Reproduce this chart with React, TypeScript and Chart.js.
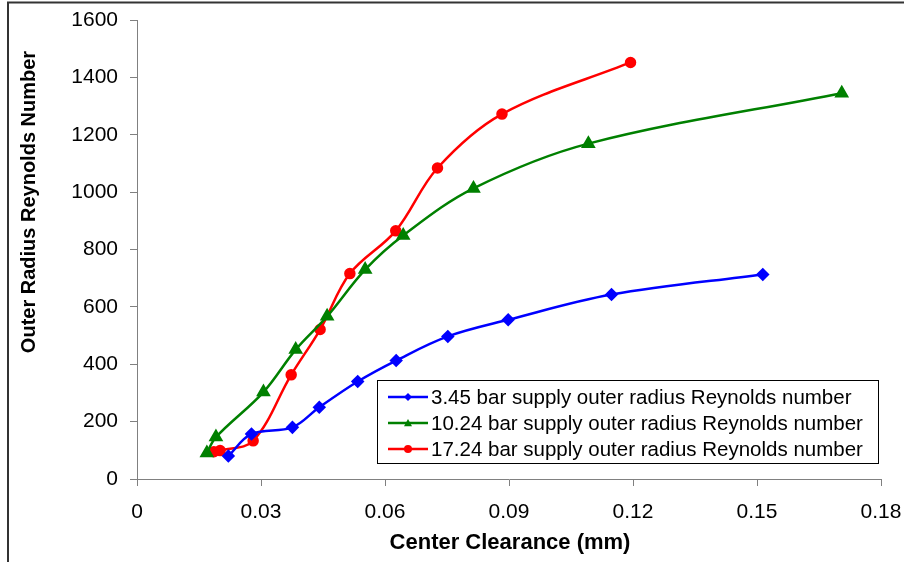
import React, { useEffect, useRef } from 'react';
import { Chart, registerables } from 'chart.js';

Chart.register(...registerables);

// ---- data ----
const seriesLabels = [
  '3.45 bar supply outer radius Reynolds number',
  '10.24 bar supply outer radius Reynolds number',
  '17.24 bar supply outer radius Reynolds number',
];
const blueX = [0.0221, 0.0277, 0.0376, 0.0441, 0.0534, 0.0627, 0.0752, 0.0898, 0.1148, 0.1514];
const blueY = [80, 157, 180, 250, 340, 413, 497, 555, 643, 713];
const greenX = [0.0169, 0.0191, 0.0306, 0.0384, 0.046, 0.0552, 0.0644, 0.0814, 0.1092, 0.1705];
const greenY = [91, 146, 303, 451, 567, 730, 849, 1013, 1169, 1345];
const redX = [0.0186, 0.0201, 0.0281, 0.0373, 0.0443, 0.0515, 0.0626, 0.0727, 0.0883, 0.1194];
const redY = [95, 99, 133, 363, 521, 716, 865, 1084, 1272, 1452];
const xTickValues = [0, 0.03, 0.06, 0.09, 0.12, 0.15, 0.18];
const xTickLabels = ['0', '0.03', '0.06', '0.09', '0.12', '0.15', '0.18'];
const yTickValues = [0, 200, 400, 600, 800, 1000, 1200, 1400, 1600];
const xTitle = 'Center Clearance (mm)';
const yTitle = 'Outer Radius Reynolds Number';

const FONT = '"Liberation Sans", Arial, sans-serif';

const toPoints = (xs: number[], ys: number[]) => xs.map((x, i) => ({ x, y: ys[i] }));

function drawMarker(ctx: CanvasRenderingContext2D, style: string, x: number, y: number, r: number, color: string) {
  ctx.save();
  ctx.fillStyle = color;
  ctx.beginPath();
  if (style === 'rectRot') {
    ctx.moveTo(x, y - r);
    ctx.lineTo(x + r, y);
    ctx.lineTo(x, y + r);
    ctx.lineTo(x - r, y);
  } else if (style === 'triangle') {
    ctx.moveTo(x, y - r);
    ctx.lineTo(x + r, y + r * 0.8);
    ctx.lineTo(x - r, y + r * 0.8);
  } else {
    ctx.arc(x, y, r, 0, Math.PI * 2);
  }
  ctx.closePath();
  ctx.fill();
  ctx.restore();
}

const decorPlugin = {
  id: 'decor',
  afterDraw(chart: any) {
    const ctx: CanvasRenderingContext2D = chart.ctx;
    const area = chart.chartArea;
    ctx.save();
    // outer frame (partially visible)
    ctx.strokeStyle = '#333333';
    ctx.lineWidth = 2;
    ctx.beginPath();
    ctx.moveTo(8, 562);
    ctx.lineTo(8, 2.5);
    ctx.lineTo(904, 2.5);
    ctx.stroke();

    // axis titles
    ctx.fillStyle = '#000000';
    ctx.font = `bold 22px ${FONT}`;
    ctx.textAlign = 'center';
    ctx.textBaseline = 'middle';
    ctx.fillText(xTitle, (area.left + area.right) / 2 + 1, 543);
    ctx.save();
    ctx.translate(29, 202);
    ctx.rotate(-Math.PI / 2);
    ctx.font = `bold 20px ${FONT}`;
    ctx.fillText(yTitle, 0, 0);
    ctx.restore();

    // legend box
    const bx = 377, by = 380, bw = 501, bh = 83;
    ctx.fillStyle = '#ffffff';
    ctx.fillRect(bx, by, bw, bh);
    ctx.strokeStyle = '#000000';
    ctx.lineWidth = 1;
    ctx.strokeRect(bx + 0.5, by + 0.5, bw, bh);
    ctx.font = `20.5px ${FONT}`;
    ctx.textAlign = 'left';
    ctx.textBaseline = 'middle';
    chart.data.datasets.forEach((ds: any, i: number) => {
      const y = 397 + i * 26;
      ctx.strokeStyle = ds.borderColor;
      ctx.lineWidth = 2.5;
      ctx.beginPath();
      ctx.moveTo(388, y);
      ctx.lineTo(428, y);
      ctx.stroke();
      drawMarker(ctx, ds.pointStyle, 408, y, 4, ds.borderColor);
      ctx.fillStyle = '#000000';
      ctx.fillText(ds.label, 431, y + 1);
    });
    ctx.restore();
  },
};

export default function App() {
  const ref = useRef<HTMLCanvasElement>(null);
  useEffect(() => {
    document.body.style.margin = '0';
    const canvas = ref.current!;
    const chart = new Chart(canvas, {
      type: 'scatter',
      data: {
        datasets: [
          {
            label: seriesLabels[0],
            data: toPoints(blueX, blueY),
            borderColor: '#0000FF',
            backgroundColor: '#0000FF',
            pointStyle: 'rectRot',
            pointRadius: 5,
            borderWidth: 2.5,
            showLine: true,
            tension: 0.35,
          },
          {
            label: seriesLabels[1],
            data: toPoints(greenX, greenY),
            borderColor: '#008000',
            backgroundColor: '#008000',
            pointStyle: 'triangle',
            pointRadius: 6,
            borderWidth: 2.5,
            showLine: true,
            tension: 0.35,
          },
          {
            label: seriesLabels[2],
            data: toPoints(redX, redY),
            borderColor: '#FF0000',
            backgroundColor: '#FF0000',
            pointStyle: 'circle',
            pointRadius: 4.5,
            borderWidth: 2.5,
            showLine: true,
            tension: 0.35,
          },
        ] as any,
      },
      options: {
        animation: false,
        responsive: false,
        devicePixelRatio: 1,
        layout: { padding: { left: 0, top: 20, right: 23, bottom: 0 } },
        plugins: { legend: { display: false }, tooltip: { enabled: false } },
        elements: { point: { borderWidth: 0 } },
        scales: {
          x: {
            type: 'linear',
            min: 0,
            max: 0.18,
            afterBuildTicks: (scale: any) => {
              scale.ticks = xTickValues.map((v) => ({ value: v }));
            },
            afterFit: (scale: any) => {
              scale.height = 83;
              scale.paddingLeft = 0;
              scale.paddingRight = 0;
            },
            ticks: {
              autoSkip: false,
              maxRotation: 0,
              padding: 14,
              color: '#000000',
              font: { family: FONT, size: 21 },
              callback: (v: any) => {
                const i = xTickValues.findIndex((t) => Math.abs(t - Number(v)) < 1e-9);
                return i >= 0 ? xTickLabels[i] : '';
              },
            },
            grid: { drawOnChartArea: false, drawTicks: true, tickLength: 7, color: '#808080' },
            border: { display: true, color: '#808080', width: 1 },
          },
          y: {
            type: 'linear',
            min: 0,
            max: 1600,
            afterBuildTicks: (scale: any) => {
              scale.ticks = yTickValues.map((v) => ({ value: v }));
            },
            afterFit: (scale: any) => {
              scale.width = 137;
              scale.paddingTop = 0;
              scale.paddingBottom = 0;
            },
            ticks: {
              autoSkip: false,
              padding: 12,
              color: '#000000',
              font: { family: FONT, size: 21 },
              callback: (v: any) => String(v),
            },
            grid: { drawOnChartArea: false, drawTicks: true, tickLength: 7, color: '#808080' },
            border: { display: true, color: '#808080', width: 1 },
          },
        },
      },
      plugins: [decorPlugin],
    } as any);
    return () => chart.destroy();
  }, []);
  return (
    <div style={{ position: 'fixed', left: 0, top: 0, width: 904, height: 562, background: '#ffffff' }}>
      <canvas ref={ref} width={904} height={562} style={{ display: 'block' }} />
    </div>
  );
}
